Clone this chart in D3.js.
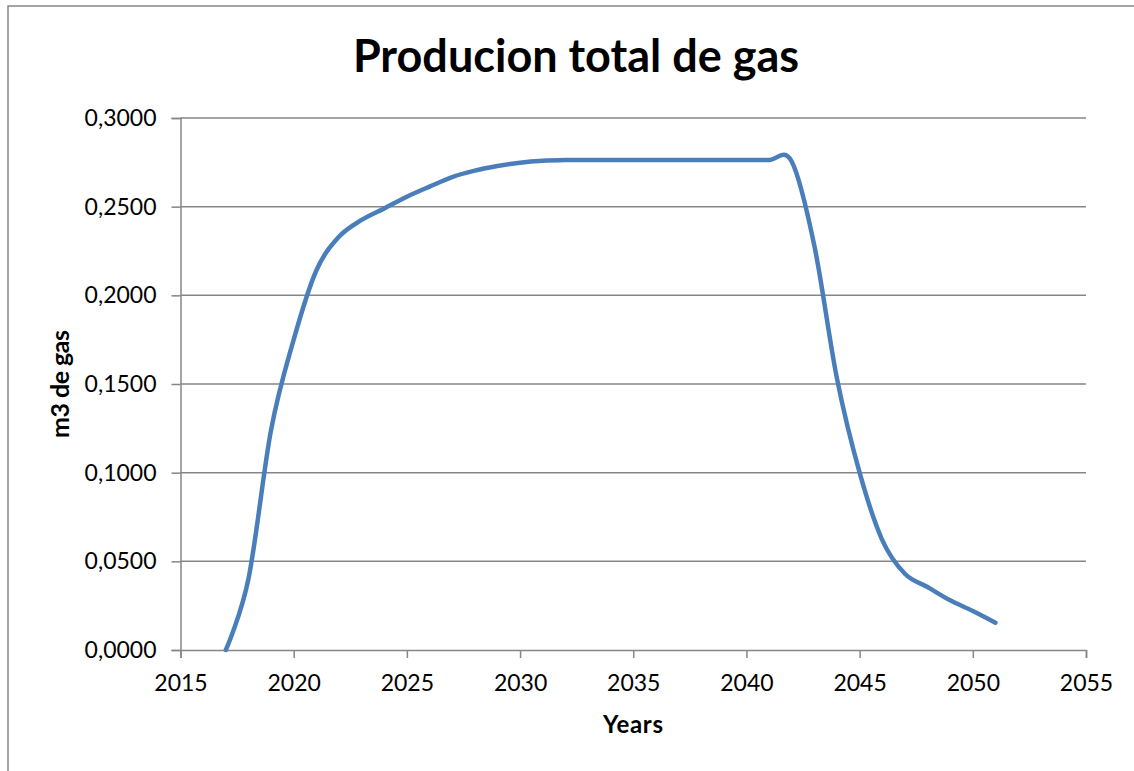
<!DOCTYPE html>
<html>
<head>
<meta charset="utf-8">
<script src="https://cdn.jsdelivr.net/npm/d3@7"></script>
<style>
  body { margin: 0; background: #fff; }
  svg { display: block; font-family: Lato, "Open Sans", sans-serif; }
</style>
</head>
<body>
<svg id="chart" width="1134" height="771"></svg>
<script>
// yearly gas production
var years = [2017, 2018, 2019, 2020, 2021, 2022, 2023, 2024, 2025, 2026,
    2027, 2028, 2029, 2030, 2031, 2032, 2033, 2034, 2035, 2036,
    2037, 2038, 2039, 2040, 2041, 2042, 2043, 2044, 2045, 2046,
    2047, 2048, 2049, 2050, 2051];
var gas = [0.0000, 0.0400, 0.1240, 0.1750, 0.2140, 0.2330, 0.2425, 0.2490, 0.2556, 0.2613,
    0.2667, 0.2703, 0.2729, 0.2748, 0.2759, 0.2763, 0.2763, 0.2763, 0.2763, 0.2763,
    0.2763, 0.2763, 0.2763, 0.2763, 0.2763, 0.2755, 0.2280, 0.1530, 0.1000, 0.0620,
    0.0430, 0.0355, 0.0280, 0.0220, 0.0154];
var xTicks = [2015, 2020, 2025, 2030, 2035, 2040, 2045, 2050, 2055];
var yTicks = [0, 0.05, 0.1, 0.15, 0.2, 0.25, 0.3];

var svg = d3.select("#chart");
var grey = "#868686";
var plot = { left: 180.5, right: 1086, top: 118, bottom: 650 };

var x = d3.scaleLinear().domain([2015, 2055]).range([plot.left, plot.right]);
var y = d3.scaleLinear().domain([0, 0.3]).range([plot.bottom, plot.top]);

// outer chart border (runs off the right and bottom of the picture)
svg.append("rect")
    .attr("x", 8).attr("y", 6)
    .attr("width", 1200).attr("height", 900)
    .attr("fill", "none")
    .attr("stroke", grey)
    .attr("stroke-width", 1.5);

// title
svg.append("text")
    .attr("x", 576).attr("y", 72)
    .attr("text-anchor", "middle")
    .style("font-size", "45px").style("font-weight", "bold")
    .text("Producion total de gas");

// horizontal gridlines
svg.append("g").selectAll("line")
    .data(yTicks.slice(1))
    .enter().append("line")
    .attr("x1", plot.left).attr("x2", plot.right)
    .attr("y1", function (d) { return y(d); })
    .attr("y2", function (d) { return y(d); })
    .attr("stroke", grey).attr("stroke-width", 1.5);

var fmt = function (d) { return d3.format(".4f")(d).replace(".", ","); };

var yAxis = svg.append("g")
    .attr("transform", "translate(" + plot.left + ",0)")
    .call(d3.axisLeft(y).tickValues(yTicks).tickSize(9).tickPadding(15).tickFormat(fmt));

var xAxis = svg.append("g")
    .attr("transform", "translate(0," + plot.bottom + ")")
    .call(d3.axisBottom(x).tickValues(xTicks).tickSize(8).tickPadding(17).tickFormat(d3.format("d")));

[yAxis, xAxis].forEach(function (a) {
    a.select(".domain").attr("stroke", grey).attr("stroke-width", 1.5);
    a.selectAll(".tick line").attr("stroke", grey).attr("stroke-width", 1.5);
    a.selectAll(".tick text")
        .attr("fill", "#000")
        .style("font-size", "23px")
        .style("font-family", "Lato, sans-serif");
});

// axis titles
svg.append("text")
    .attr("x", 633).attr("y", 733)
    .attr("text-anchor", "middle")
    .attr("textLength", 60)
    .style("font-size", "24px").style("font-weight", "bold")
    .text("Years");

svg.append("text")
    .attr("transform", "translate(69,384) rotate(-90)")
    .attr("text-anchor", "middle")
    .attr("textLength", 108)
    .style("font-size", "25px").style("font-weight", "bold")
    .text("m3 de gas");

// the series
var line = d3.line()
    .x(function (d, i) { return x(years[i]); })
    .y(function (d) { return y(d); })
    .curve(d3.curveCatmullRom.alpha(0));

svg.append("path")
    .datum(gas)
    .attr("d", line)
    .attr("fill", "none")
    .attr("stroke", "#4a7ebb")
    .attr("stroke-width", 4.5)
    .attr("stroke-linecap", "round")
    .attr("stroke-linejoin", "round");
</script>
</body>
</html>
